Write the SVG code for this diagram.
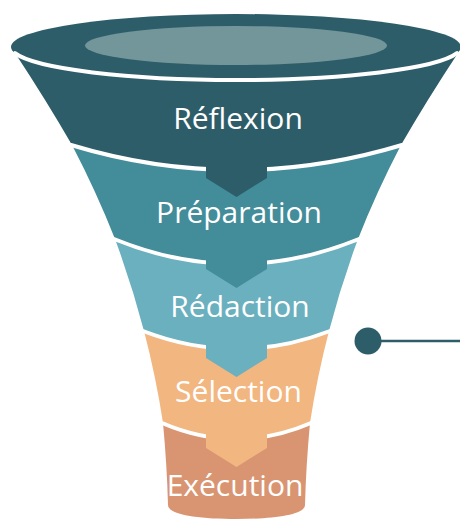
<svg xmlns="http://www.w3.org/2000/svg" width="460" height="519" viewBox="0 0 460 519">
  <style>
    .lbl { font-family: "Open Sans", "Liberation Sans", sans-serif; font-size: 30px; fill: #ffffff; text-anchor: middle; }
    .sep { fill: none; stroke: #ffffff; stroke-width: 4; stroke-linecap: round; }
    .c1 { fill: #2d5d69; }
    .c2 { fill: #438c9a; }
    .c3 { fill: #6bb0be; }
    .c4 { fill: #f2b680; }
    .c5 { fill: #d99571; }
  </style>
  <rect width="460" height="519" fill="#ffffff"/>

  <g id="reflexion">
    <path class="c1" d="M15,53 Q46,100 72,145 Q236.5,195 401,145 Q427,100 458,53 Z"/>
  </g>
  <g id="preparation">
    <path class="c2" d="M72,145 Q96.5,192 115,239 Q236.5,289 358,239 Q376.5,192 401,145 Q236.5,195 72,145 Z"/>
  </g>
  <g id="redaction">
    <path class="c3" d="M115,239 Q132,285 144,331 Q236.5,367 329,331 Q341,285 358,239 Q236.5,289 115,239 Z"/>
  </g>
  <g id="selection">
    <path class="c4" d="M144,331 Q156,377 163,423 Q236.5,455 310,423 Q317,377 329,331 Q236.5,367 144,331 Z"/>
  </g>
  <g id="execution">
    <path class="c5" d="M163,423 Q167,466 168,505 C168,515 200,519 236.5,519 C273,519 305,515 305,505 Q306,466 310,423 Q236.5,455 163,423 Z"/>
  </g>

  <g id="separators">
    <path class="sep" d="M71,145 Q236.5,195 402,145"/>
    <path class="sep" d="M114,239 Q236.5,289 359,239"/>
    <path class="sep" d="M143,331 Q236.5,367 330,331"/>
    <path class="sep" d="M162,423 Q236.5,455 311,423"/>
  </g>

  <g id="chevrons">
    <path class="c1" d="M206,163 L267,163 L267,178 L236.5,197 L206,178 Z"/>
    <path class="c2" d="M206,256 L267,256 L267,269 L236.5,288 L206,269 Z"/>
    <path class="c3" d="M206,341 L267,341 L267,358 L236.5,377 L206,358 Z"/>
    <path class="c4" d="M206,430 L267,430 L267,448 L236.5,467 L206,448 Z"/>
  </g>

  <g id="top">
    <ellipse class="c1" cx="236" cy="47" rx="225" ry="33"/>
    <path class="sep" d="M15,53.2 A225,33 0 0 0 457,53.2"/>
    <ellipse cx="236" cy="45.5" rx="151" ry="19.5" fill="#73969b"/>
  </g>

  <g id="labels">
    <text class="lbl" x="238" y="129">Réflexion</text>
    <text class="lbl" x="239" y="223">Préparation</text>
    <text class="lbl" x="240" y="317">Rédaction</text>
    <text class="lbl" x="238.5" y="402">Sélection</text>
    <text class="lbl" x="235" y="496">Exécution</text>
  </g>

  <g id="connectors">
    <line x1="368" y1="341" x2="460" y2="341" stroke="#2d5d69" stroke-width="2.7"/>
    <circle cx="368" cy="341" r="13.5" fill="#2d5d69"/>
  </g>
</svg>
